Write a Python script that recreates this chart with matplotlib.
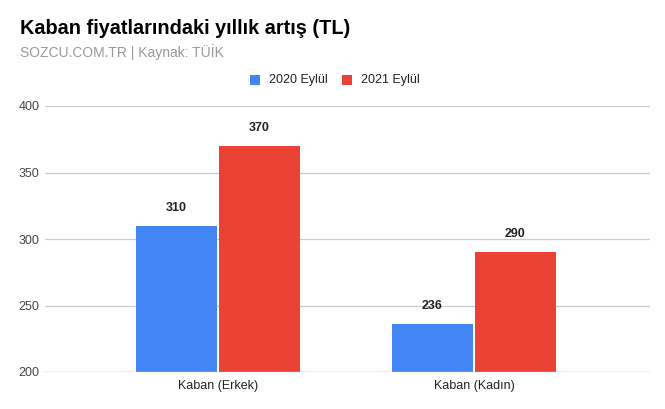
import matplotlib
matplotlib.use("Agg")
import matplotlib.pyplot as plt
from matplotlib.patches import Rectangle

plt.rcParams['font.family'] = ['Liberation Sans', 'DejaVu Sans']

categories = ["Kaban (Erkek)", "Kaban (Kadın)"]
series_names = ["2020 Eylül", "2021 Eylül"]
values_2020 = [310, 236]
values_2021 = [370, 290]
colors = ["#4285F4", "#EA4335"]
yticks = [200, 250, 300, 350, 400]

W, H = 665, 409
fig = plt.figure(figsize=(W/100, H/100), dpi=100)
ax = fig.add_axes([45/W, 1-372/H, 605/W, 266/H])

bw = 0.316
off = 0.162
x = list(range(len(categories)))
for vals, c, sgn in [(values_2020, colors[0], -1), (values_2021, colors[1], 1)]:
    xs = [xi + sgn*off for xi in x]
    ax.bar(xs, [v-200 for v in vals], bottom=200, width=bw, color=c, zorder=3)
    for xi, v in zip(xs, vals):
        ax.annotate(f"{v}", (xi, v), xytext=(0, 8.5), textcoords="offset points",
                    ha="center", va="bottom", fontsize=9, fontweight="bold", color="#222222")

ax.set_xlim(-0.676, 1.6875)
ax.set_ylim(200, 400)
ax.set_yticks(yticks)
ax.set_yticklabels([str(t) for t in yticks], fontsize=9, color="#444444")
ax.set_xticks(x)
ax.set_xticklabels(categories, fontsize=9, color="#222222")
ax.tick_params(axis='both', length=0)
ax.tick_params(axis='y', pad=4)
ax.tick_params(axis='x', pad=6)
ax.grid(axis='y', color="#cccccc", linewidth=0.9, zorder=0)
for s in ax.spines.values():
    s.set_visible(False)
ax.axhline(200, color="#bbbbbb", linewidth=1.0, zorder=4)

fig.text(20/W, 1-29/H, "Kaban fiyatlarındaki yıllık artış (TL)", fontsize=14.3, fontweight="bold",
         va="center", ha="left", color="#000000")
fig.text(20/W, 1-52/H, "SOZCU.COM.TR | Kaynak: TÜİK", fontsize=10, va="center", ha="left", color="#999999")

# legend
ly = 1-80/H
for i, (name, c, lx) in enumerate(zip(series_names, colors, [250, 342])):
    fig.patches.append(Rectangle((lx/W, ly-5/H), 10/W, 10/H, transform=fig.transFigure,
                                 facecolor=c, edgecolor='none'))
    fig.text((lx+19)/W, ly, name, fontsize=9, va="center", ha="left", color="#222222")

fig.savefig("out.png", dpi=100)
